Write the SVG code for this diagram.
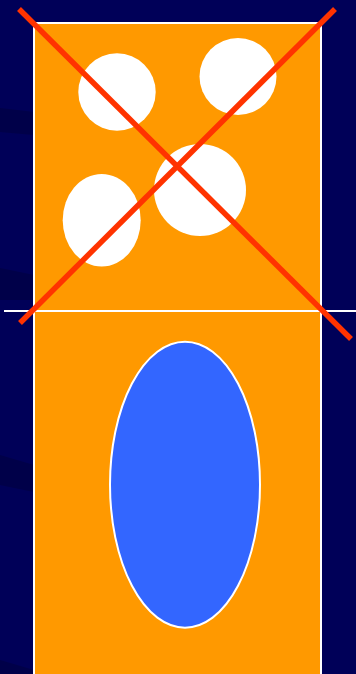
<svg xmlns="http://www.w3.org/2000/svg" width="356" height="674" viewBox="0 0 356 674">
<style>
.spot{fill:#ffffff;stroke:none}
.cross{stroke:#ff3300;stroke-width:5.5;stroke-linecap:butt}
.band{fill:#000040;opacity:0.6}
</style>
<rect x="0" y="0" width="356" height="674" fill="#000058"/>
<polygon class="band" points="0,108 34,112 34,135 0,132"/>
<polygon class="band" points="0,268 34,275 34,300 0,300"/>
<polygon class="band" points="0,455 34,465 34,492 0,485"/>
<polygon class="band" points="0,660 34,670 34,674 0,674"/>
<g id="court">
<rect x="34" y="23" width="287" height="660" fill="#ff9900" stroke="#ffffff" stroke-width="2"/>
<line x1="4" y1="311" x2="356" y2="311" stroke="#ffffff" stroke-width="2"/>
</g>
<g id="spot1"><circle class="spot" cx="117" cy="92" r="38.7"/></g>
<g id="spot2"><circle class="spot" cx="238" cy="76.5" r="38.5"/></g>
<g id="spot3"><ellipse class="spot" cx="101.7" cy="220.3" rx="39" ry="46.3"/></g>
<g id="spot4"><circle class="spot" cx="200" cy="190" r="46"/></g>
<g id="cross">
<line class="cross" x1="19" y1="9" x2="351" y2="339"/>
<line class="cross" x1="335" y1="9" x2="20" y2="323"/>
</g>
<g id="blue"><ellipse cx="185" cy="484.7" rx="75" ry="143" fill="#3366ff" stroke="#ffffff" stroke-width="2"/></g>
</svg>
